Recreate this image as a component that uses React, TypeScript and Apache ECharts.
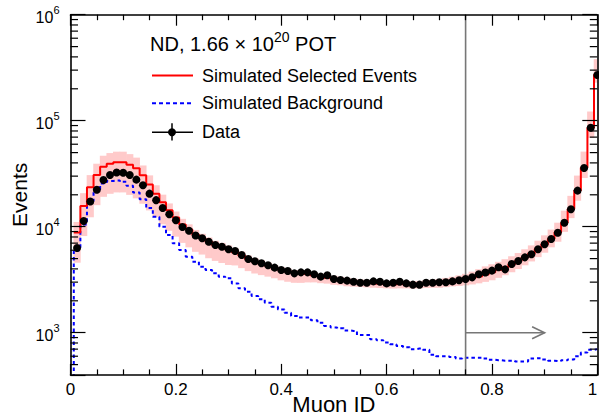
import React, { useEffect, useRef } from "react";
import * as echarts from "echarts";

const FONT = "'Liberation Sans', Arial, Helvetica, sans-serif";

// Histogram binning: 81 bins from -0.00625 to 1.00625
const histLow = -0.00625;
const binWidth = 0.0125;

// Data (black points)
const dataEvents: (number | null)[] = [
  null, 6300, 11300, 17300, 22300, 27600, 30800, 32500, 32300, 30700,
  27800, 24600, 20500, 17800, 15000, 13100, 11500, 9950, 9150, 8250,
  7770, 7220, 6720, 6470, 6120, 5900, 5410, 4960, 4720, 4520,
  4330, 4110, 3900, 3820, 3630, 3710, 3710, 3560, 3380, 3480,
  3210, 3140, 3100, 3020, 2960, 2960, 3050, 3030, 2920, 2960,
  3030, 2920, 2840, 2840, 2960, 2960, 2990, 2990, 3050, 3120,
  3210, 3330, 3560, 3700, 3850, 4140, 3960, 4450, 4740, 5140,
  5490, 6120, 6830, 7660, 8780, 10900, 14600, 21900, 35800, 85900,
  270000,
];

// Simulated selected events (red)
const simSelected: (number | null)[] = [
  null, 8800, 15700, 23600, 30700, 36800, 39300, 40500, 40500, 38400,
  35600, 30500, 25000, 20500, 17000, 14300, 12200, 10500, 9400, 8400,
  7800, 7200, 6700, 6400, 6050, 5750, 5350, 4950, 4700, 4480,
  4280, 4080, 3900, 3780, 3650, 3600, 3550, 3470, 3370, 3300,
  3220, 3150, 3080, 3020, 2970, 2940, 2920, 2900, 2880, 2870,
  2880, 2880, 2870, 2880, 2900, 2920, 2950, 2990, 3040, 3100,
  3180, 3280, 3400, 3550, 3720, 3920, 4150, 4420, 4750, 5150,
  5600, 6150, 6850, 7700, 8800, 10900, 14700, 22000, 36000, 86000,
  272000,
];

// Simulated background (blue dashed)
const simBackground: number[] = [
  200, 6000, 10500, 17500, 22500, 25500, 27000, 27300, 26500, 24300,
  21000, 18200, 15000, 12400, 10000, 8350, 6970, 6030, 5210, 4680,
  4190, 3900, 3630, 3380, 3260, 2920, 2620, 2440, 2220, 2070,
  1920, 1760, 1660, 1540, 1440, 1390, 1390, 1310, 1240, 1160,
  1120, 1100, 1050, 1040, 950, 950, 870, 850, 810, 780,
  750, 730, 700, 710, 690, 620, 600, 600, 590, 570,
  580, 580, 580, 570, 555, 550, 545, 545, 535, 535,
  570, 575, 560, 545, 540, 550, 560, 600, 650, 690,
  700,
];

// Systematic uncertainty band (percent up / down)
const systUpPct: number[] = [
  0, 26, 32, 30, 28, 27, 26, 26, 26, 26,
  26, 24, 22, 20, 18, 16, 14, 13, 12, 11,
  10, 10, 10, 10, 10, 9, 9, 8, 8, 8,
  7, 7, 7, 7, 7, 7, 7, 7, 7, 7,
  7, 7, 7, 7, 7, 7, 7, 7, 7, 7,
  7, 7, 7, 7, 8, 8, 9, 10, 11, 12,
  13, 15, 17, 19, 19, 19, 19, 19, 19, 19,
  19, 20, 21, 22, 24, 30, 33, 38, 42, 42,
  40,
];
const systDownPct: number[] = [
  0, 48, 48, 48, 48, 48, 48, 48, 48, 48,
  48, 46, 43, 40, 38, 36, 34, 33, 32, 31,
  30, 30, 29, 29, 28, 25, 24, 23, 23, 22,
  21, 20, 20, 20, 19, 18, 16, 14, 13, 12,
  12, 11, 11, 10, 9, 9, 9, 9, 9, 9,
  9, 9, 9, 9, 9, 9, 10, 10, 10, 11,
  12, 13, 14, 15, 16, 16, 16, 16, 16, 16,
  16, 16, 17, 17, 18, 18, 18, 20, 20, 20,
  16,
];

// Y-axis minor tick values (log scale)
const yMinorTicks: number[] = [
  500, 600, 700, 800, 900,
  2000, 3000, 4000, 5000, 6000, 7000, 8000, 9000,
  20000, 30000, 40000, 50000, 60000, 70000, 80000, 90000,
  200000, 300000, 400000, 500000, 600000, 700000, 800000, 900000,
];

const cutValue = 0.75;
const arrowEnd = 0.9;
const arrowLevel = 1000;

const yMin = 400;
const yMax = 1e6;

export default function App() {
  const ref = useRef<HTMLDivElement>(null);

  useEffect(() => {
    if (!ref.current) return;
    const chart = echarts.init(ref.current, undefined, { renderer: "svg" });

    const centers = simBackground.map((_, k) => +(histLow + (k + 0.5) * binWidth).toFixed(6));
    const redData = simSelected.map((v, k) => [centers[k], v == null ? null : v]);
    const blueData = simBackground.map((v, k) => [centers[k], v]);
    const pointData = dataEvents
      .map((v, k) => (v == null ? null : [centers[k], v]))
      .filter((d) => d !== null);
    const bandData: number[][] = [];
    simSelected.forEach((v, k) => {
      if (v != null && systUpPct[k] > 0) {
        bandData.push([centers[k], v * (1 - systDownPct[k] / 100), v * (1 + systUpPct[k] / 100)]);
      }
    });

    const axisLineStyle = { color: "#000", width: 1.6 };
    const tickStyle = { color: "#000", width: 1.2 };

    const xAxisBase = {
      type: "value",
      min: 0,
      max: 1,
      interval: 0.2,
      z: 10,
      axisLine: { show: true, onZero: false, lineStyle: axisLineStyle },
      axisTick: { show: true, inside: true, length: 11, lineStyle: tickStyle },
      minorTick: { show: true, splitNumber: 4, length: 5.5, lineStyle: tickStyle },
      splitLine: { show: false },
      minorSplitLine: { show: false },
    };

    const yAxisBase = {
      type: "log",
      logBase: 10,
      min: yMin,
      max: yMax,
      z: 10,
      axisLine: { show: true, onZero: false, lineStyle: axisLineStyle },
      axisTick: { show: true, inside: true, length: 15, lineStyle: tickStyle },
      splitLine: { show: false },
    };

    const option: any = {
      animation: false,
      backgroundColor: "#fff",
      textStyle: { fontFamily: FONT },
      grid: { left: 70.5, right: 1.7, top: 14.7, bottom: 45.1, containLabel: false, outerBoundsMode: "none" },
      xAxis: [
        {
          ...xAxisBase,
          position: "bottom",
          axisLabel: {
            show: true,
            fontSize: 17,
            color: "#000",
            margin: 6,
            fontFamily: FONT,
            alignMaxLabel: "right",
          },
          name: "Muon ID",
          nameLocation: "middle",
          nameGap: 19,
          nameMoveOverlap: false,
          nameTextStyle: { fontSize: 22, color: "#000", fontFamily: FONT, verticalAlign: "top" },
        },
        {
          ...xAxisBase,
          position: "top",
          axisLabel: { show: false },
        },
      ],
      yAxis: [
        {
          ...yAxisBase,
          position: "left",
          axisLabel: {
            show: true,
            margin: 11,
            color: "#000",
            formatter: (v: number) => {
              const e = Math.log10(v);
              const r = Math.round(e);
              if (Math.abs(e - r) > 1e-6) return "";
              return `{b|10}{s|${r}}`;
            },
            rich: {
              b: { fontSize: 16, color: "#000", fontFamily: FONT, padding: [5, 0, 0, 0] },
              s: { fontSize: 11, color: "#000", fontFamily: FONT, verticalAlign: "top" },
            },
          },
          name: "Events",
          nameLocation: "middle",
          nameGap: 41,
          nameRotate: 90,
          nameMoveOverlap: false,
          nameTextStyle: { fontSize: 21, color: "#000", fontFamily: FONT },
        },
        {
          ...yAxisBase,
          position: "right",
          axisLabel: { show: false },
        },
      ],
      series: [
        {
          type: "custom",
          name: "syst band",
          silent: true,
          z: 1,
          xAxisIndex: 0,
          yAxisIndex: 0,
          data: bandData,
          encode: { x: 0, y: [1, 2] },
          renderItem: (params: any, api: any) => {
            const x = api.value(0);
            const lo = api.value(1);
            const hi = api.value(2);
            const p1 = api.coord([x - binWidth / 2, hi]);
            const p2 = api.coord([x + binWidth / 2, lo]);
            const cs = params.coordSys;
            const x1 = Math.max(p1[0] - 0.3, cs.x);
            const x2 = Math.min(p2[0] + 0.3, cs.x + cs.width);
            const y1 = Math.max(p1[1], cs.y);
            const y2 = Math.min(p2[1], cs.y + cs.height);
            if (x2 <= x1 || y2 <= y1) return null;
            return {
              type: "rect",
              shape: { x: x1, y: y1, width: x2 - x1, height: y2 - y1 },
              style: { fill: "#ffcaca", stroke: null },
            };
          },
        },
        {
          type: "line",
          name: "Simulated Background",
          step: "middle",
          showSymbol: false,
          symbol: "none",
          z: 3,
          clip: true,
          data: blueData,
          lineStyle: { color: "#0000ff", width: 2, type: [3.5, 3] },
        },
        {
          type: "line",
          name: "Simulated Selected Events",
          step: "middle",
          showSymbol: false,
          symbol: "none",
          z: 4,
          clip: true,
          connectNulls: false,
          data: redData,
          lineStyle: { color: "#ff0000", width: 2 },
        },
        {
          type: "custom",
          name: "cut",
          silent: true,
          z: 5,
          data: [[cutValue, arrowEnd, arrowLevel]],
          encode: { x: [0, 1], y: 2 },
          renderItem: (params: any, api: any) => {
            const cs = params.coordSys;
            const a = api.coord([api.value(0), api.value(2)]);
            const b = api.coord([api.value(1), api.value(2)]);
            const st = { stroke: "#777777", lineWidth: 1.6, fill: "none" };
            return {
              type: "group",
              children: [
                { type: "line", shape: { x1: a[0], y1: cs.y, x2: a[0], y2: cs.y + cs.height }, style: st },
                { type: "line", shape: { x1: a[0], y1: a[1], x2: b[0], y2: b[1] }, style: st },
                {
                  type: "polyline",
                  shape: { points: [[b[0] - 12.5, b[1] - 6], [b[0], b[1]], [b[0] - 12.5, b[1] + 6]] },
                  style: st,
                },
              ],
            };
          },
        },
        {
          type: "scatter",
          name: "Data",
          z: 6,
          symbol: "circle",
          symbolSize: 8,
          itemStyle: { color: "#000", opacity: 1 },
          data: pointData,
        },
        {
          type: "custom",
          name: "minor ticks",
          silent: true,
          z: 7,
          data: yMinorTicks.map((v) => [0, v]),
          encode: { x: 0, y: 1 },
          renderItem: (params: any, api: any) => {
            const cs = params.coordSys;
            const p = api.coord([0, api.value(1)]);
            const st = { stroke: "#000", lineWidth: 1.2 };
            return {
              type: "group",
              children: [
                { type: "line", shape: { x1: cs.x, y1: p[1], x2: cs.x + 7.5, y2: p[1] }, style: st },
                {
                  type: "line",
                  shape: { x1: cs.x + cs.width - 7.5, y1: p[1], x2: cs.x + cs.width, y2: p[1] },
                  style: st,
                },
              ],
            };
          },
        },
      ],
      graphic: [
        {
          type: "text",
          x: 150,
          y: 42,
          style: {
            text: "{a|ND, 1.66 × 10}{s|20}{a| POT}",
            verticalAlign: "middle",
            rich: {
              a: { fontSize: 20, fill: "#000", fontFamily: FONT, padding: [4, 0, 0, 0] },
              s: { fontSize: 14, fill: "#000", fontFamily: FONT, verticalAlign: "top" },
            },
          },
        },
        { type: "line", shape: { x1: 152, y1: 75.5, x2: 193, y2: 75.5 }, style: { stroke: "#ff0000", lineWidth: 2 } },
        {
          type: "text",
          x: 202,
          y: 75.5,
          style: { text: "Simulated Selected Events", fontSize: 18, fontFamily: FONT, fill: "#000", verticalAlign: "middle" },
        },
        {
          type: "line",
          shape: { x1: 152, y1: 103.3, x2: 191, y2: 103.3 },
          style: { stroke: "#0000ff", lineWidth: 2, lineDash: [4, 3] },
        },
        {
          type: "text",
          x: 202,
          y: 103,
          style: { text: "Simulated Background", fontSize: 18, fontFamily: FONT, fill: "#000", verticalAlign: "middle" },
        },
        { type: "line", shape: { x1: 152, y1: 132.3, x2: 193, y2: 132.3 }, style: { stroke: "#000", lineWidth: 1.5 } },
        { type: "line", shape: { x1: 172, y1: 123.3, x2: 172, y2: 140.5 }, style: { stroke: "#000", lineWidth: 1.5 } },
        { type: "circle", shape: { cx: 172, cy: 132.3, r: 4 }, style: { fill: "#000" } },
        {
          type: "text",
          x: 202,
          y: 132,
          style: { text: "Data", fontSize: 18, fontFamily: FONT, fill: "#000", verticalAlign: "middle" },
        },
      ],
    };

    chart.setOption(option);
    return () => chart.dispose();
  }, []);

  return (
    <div
      ref={ref}
      style={{ position: "fixed", left: 0, top: 0, width: 599, height: 420, background: "#fff" }}
    />
  );
}
